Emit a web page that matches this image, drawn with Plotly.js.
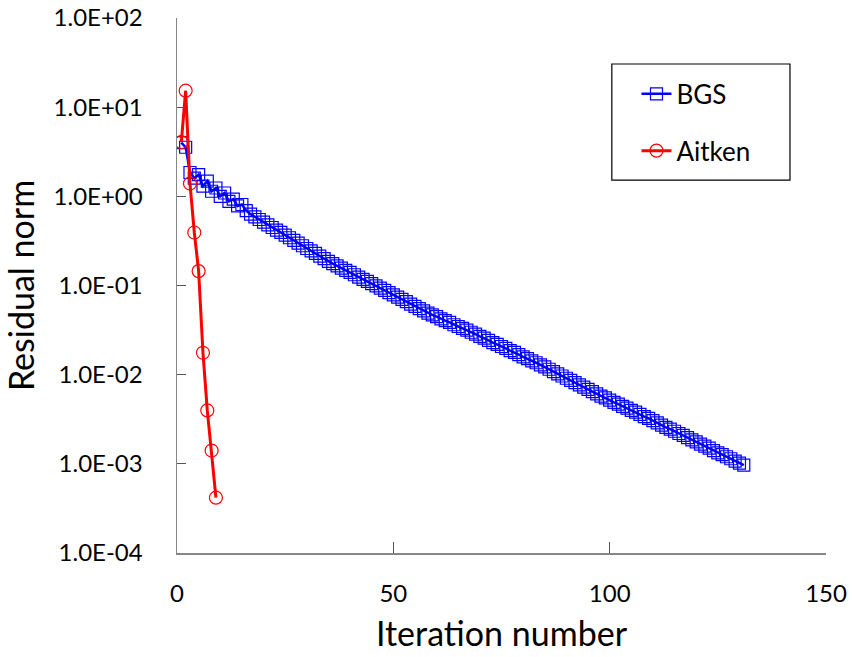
<!DOCTYPE html>
<html>
<head>
<meta charset="utf-8">
<script src="https://cdn.plot.ly/plotly-3.0.1.min.js"></script>
<style>html,body{margin:0;padding:0;background:#fff;}#chart{width:852px;height:657px;}</style>
</head>
<body>
<div id="chart"></div>
<script>
// Residual norm per iteration, BGS (iterations 1..131)
const bgsResidual = [
  4.0, 3.55, 1.85, 1.60, 1.75, 1.30, 1.48, 1.14, 1.24, 1.00,
  1.09, 0.88, 0.93, 0.78, 0.81, 0.69, 0.631, 0.589, 0.550, 0.513,
  0.479, 0.447, 0.417, 0.394, 0.367, 0.343, 0.320, 0.299, 0.279, 0.260,
  0.245, 0.229, 0.214, 0.200, 0.186, 0.176, 0.166, 0.157, 0.148, 0.140,
  0.132, 0.124, 0.117, 0.111, 0.105, 0.0989, 0.0933, 0.0881, 0.0832, 0.0785,
  0.0741, 0.0700, 0.0661, 0.0617, 0.0582, 0.0550, 0.0519, 0.0490, 0.0468, 0.0447,
  0.0422, 0.0403, 0.0385, 0.0363, 0.0347, 0.0331, 0.0316, 0.0299, 0.0285, 0.0269,
  0.0257, 0.0243, 0.0229, 0.0219, 0.0207, 0.0197, 0.0186, 0.0178, 0.0168, 0.0158,
  0.0151, 0.0143, 0.0136, 0.0129, 0.0122, 0.0115, 0.0108, 0.0102, 0.00966, 0.00912,
  0.00861, 0.00813, 0.00767, 0.00724, 0.00684, 0.00646, 0.00610, 0.00575, 0.00550, 0.00519,
  0.00490, 0.00468, 0.00442, 0.00422, 0.00398, 0.00380, 0.00359, 0.00339, 0.00324, 0.00305,
  0.00288, 0.00272, 0.00257, 0.00245, 0.00232, 0.00219, 0.00209, 0.00197, 0.00186, 0.00176,
  0.00166, 0.00158, 0.00150, 0.00141, 0.00133, 0.00127, 0.00120, 0.00114, 0.00107, 0.00102,
  0.000966
];
const bgsIteration = bgsResidual.map((_, i) => i + 1);

// Residual norm per iteration, Aitken (iterations 1..9)
const aitkenIteration = [1, 2, 3, 4, 5, 6, 7, 8, 9];
const aitkenResidual = [4.05, 15.3, 1.39, 0.393, 0.145, 0.0176, 0.00397, 0.00141, 0.000417];

const yTickVals = [1e-4, 1e-3, 1e-2, 1e-1, 1e0, 1e1, 1e2];
const yTickText = ['1.0E-04', '1.0E-03', '1.0E-02', '1.0E-01', '1.0E+00', '1.0E+01', '1.0E+02'];
const xTickVals = [0, 50, 100, 150];

const FONT = 'Lato, "Open Sans", sans-serif';

const traces = [
  {
    x: bgsIteration, y: bgsResidual, name: 'BGS', type: 'scatter', mode: 'lines+markers',
    legendgroup: 'g1',
    line: {color: '#0000FF', width: 2.5},
    marker: {symbol: 'square-open', size: 12, color: '#0000FF', line: {width: 1.2}}
  },
  {
    x: aitkenIteration, y: aitkenResidual, name: 'Aitken', type: 'scatter', mode: 'lines+markers',
    legendgroup: 'g2',
    line: {color: '#FF0000', width: 3},
    marker: {symbol: 'circle-open', size: 13, color: '#FF0000', line: {width: 1.2}}
  }
];

const layout = {
  width: 852, height: 657,
  margin: {l: 177, r: 26, t: 18, b: 104},
  paper_bgcolor: '#fff', plot_bgcolor: '#fff',
  font: {family: FONT, color: '#000', size: 20},
  showlegend: true,
  legend: {
    x: 0.708, y: 0.902, xanchor: 'left', yanchor: 'top',
    bgcolor: 'rgba(0,0,0,0)', borderwidth: 0,
    font: {family: FONT, size: 26, color: '#000'},
    tracegroupgap: 20, traceorder: 'grouped'
  },
  shapes: [{
    type: 'rect', xref: 'paper', yref: 'paper',
    x0: 0.670, x1: 0.9445, y0: 0.697, y1: 0.914,
    line: {color: '#000', width: 1.2}, fillcolor: '#fff', layer: 'below'
  }],
  xaxis: {
    range: [0, 150], tickvals: xTickVals, ticktext: xTickVals.map(String),
    showgrid: false, zeroline: false, showline: true, linecolor: '#868686', linewidth: 1.5,
    ticks: 'inside', ticklen: 11, tickcolor: '#555', tickwidth: 1,
    ticklabelstandoff: 19,
    tickfont: {family: FONT, size: 24, color: '#000'},
    title: {text: 'Iteration number', font: {family: FONT, size: 34, color: '#000'}, standoff: 16}
  },
  yaxis: {
    type: 'log', range: [-4, 2], tickvals: yTickVals, ticktext: yTickText,
    showgrid: false, zeroline: false, showline: true, linecolor: '#868686', linewidth: 1.5,
    ticks: 'inside', ticklen: 9, tickcolor: '#555', tickwidth: 1,
    ticklabelstandoff: 28,
    tickfont: {family: FONT, size: 24, color: '#000'},
    title: {text: 'Residual norm', font: {family: FONT, size: 34, color: '#000'}, standoff: 12}
  }
};

Plotly.newPlot('chart', traces, layout, {staticPlot: true, displayModeBar: false});
</script>
</body>
</html>
